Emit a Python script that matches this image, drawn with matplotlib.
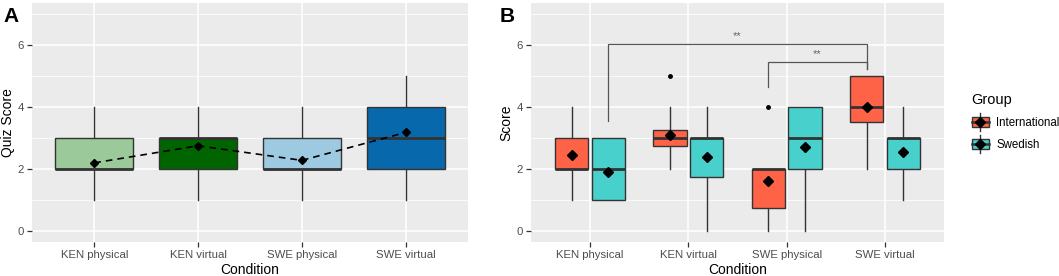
import matplotlib
matplotlib.use("Agg")
import matplotlib.pyplot as plt
from matplotlib.patches import Rectangle
from matplotlib.lines import Line2D
from matplotlib.legend_handler import HandlerBase

plt.rcParams['font.family'] = ['Liberation Sans', 'DejaVu Sans']

conditions = ["KEN physical", "KEN virtual", "SWE physical", "SWE virtual"]

# Panel A summary stats
a_whislo = [1, 1, 1, 1]
a_q1 = [2, 2, 2, 2]
a_med = [2, 3, 2, 3]
a_q3 = [3, 3, 3, 4]
a_whishi = [4, 4, 4, 5]
a_mean = [2.2, 2.75, 2.28, 3.18]
a_colors = ["#9CC99A", "#006400", "#9ECAE1", "#0868AC"]

# Panel B summary stats
groups = ["International", "Swedish"]
group_colors = ["#FF6347", "#48D1CC"]
b_int_whislo = [1, 2, 0, 2]
b_int_q1 = [2, 2.75, 0.75, 3.5]
b_int_med = [2, 3, 2, 4]
b_int_q3 = [3, 3.25, 2, 5]
b_int_whishi = [4, 4, 2, 5]
b_int_mean = [2.45, 3.1, 1.62, 4.0]
b_int_out = [[], [5], [4], []]
b_swe_whislo = [1, 0, 0, 1]
b_swe_q1 = [1, 1.75, 2, 2]
b_swe_med = [2, 3, 3, 3]
b_swe_q3 = [3, 3, 4, 3]
b_swe_whishi = [3, 4, 4, 4]
b_swe_mean = [1.92, 2.38, 2.7, 2.55]
b_swe_out = [[], [], [], []]

# significance brackets: (cond_left, group_left, y_left, cond_right, group_right, y_right, y_top, label)
brackets = [
    (0, 1, 3.55, 3, 0, 5.23, 6.03, "**"),
    (2, 0, 4.64, 3, 0, 5.23, 5.45, "**"),
]

W, H = 1059, 276
fig = plt.figure(figsize=(W / 100, H / 100), dpi=100)

BG = "#EBEBEB"
EDGE = "#333333"
TICKC = "#4D4D4D"


def style_axes(ax, ylabel):
    ax.set_facecolor(BG)
    for s in ax.spines.values():
        s.set_visible(False)
    ax.set_xlim(0.4, 4.6)
    ax.set_ylim(-0.35, 7.35)
    ax.set_yticks([0, 2, 4, 6])
    ax.set_yticks([1, 3, 5, 7], minor=True)
    ax.set_xticks(range(1, 5))
    ax.set_xticklabels(conditions)
    ax.grid(True, which="major", color="white", lw=1.1, zorder=0)
    ax.grid(True, which="minor", axis="y", color="white", lw=0.55, zorder=0)
    ax.set_axisbelow(True)
    ax.tick_params(axis="both", which="major", length=3.5, width=0.9, color="#333333",
                   labelcolor=TICKC, labelsize=8.2, pad=2.5)
    ax.tick_params(axis="y", which="minor", length=0)
    ax.set_xlabel("Condition", fontsize=10, labelpad=2)
    ax.set_ylabel(ylabel, fontsize=10, labelpad=2)


def stats(lo, q1, med, q3, hi, outs=None):
    return dict(whislo=lo, q1=q1, med=med, q3=q3, whishi=hi, fliers=outs or [])


def draw_boxes(ax, st, positions, widths, colors):
    bp = ax.bxp(st, positions=positions, widths=widths, patch_artist=True,
                showcaps=False, showfliers=True, manage_ticks=False,
                boxprops=dict(edgecolor=EDGE, linewidth=1.0),
                whiskerprops=dict(color=EDGE, linewidth=1.0),
                medianprops=dict(color=EDGE, linewidth=2.0),
                flierprops=dict(marker="o", markersize=2.5, markerfacecolor="black",
                                markeredgecolor="black", linestyle="none"))
    for patch, c in zip(bp["boxes"], colors):
        patch.set_facecolor(c)
        patch.set_zorder(2)
    for k in ("whiskers", "medians"):
        for l in bp[k]:
            l.set_zorder(3 if k == "medians" else 1.5)
    return bp


# ---------- Panel A ----------
axA = fig.add_axes([32 / W, 1 - 242 / H, 436 / W, 239 / H])
style_axes(axA, "Quiz Score")
stA = [stats(*v) for v in zip(a_whislo, a_q1, a_med, a_q3, a_whishi)]
draw_boxes(axA, stA, list(range(1, 5)), [0.75] * 4, a_colors)
axA.plot(range(1, 5), a_mean, color="black", linestyle=(0, (4, 3)), lw=1.2, zorder=4)
axA.plot(range(1, 5), a_mean, linestyle="none", marker="D", markersize=4.5,
         color="black", zorder=5)
fig.text(3 / W, 1 - 16 / H, "A", fontsize=15, fontweight="bold", va="center", ha="left")

# ---------- Panel B ----------
axB = fig.add_axes([531 / W, 1 - 242 / H, 413 / W, 239 / H])
style_axes(axB, "Score")
off = 0.1875
bw = 0.34
pos_int = [i + 1 - off for i in range(4)]
pos_swe = [i + 1 + off for i in range(4)]
stI = [stats(*v) for v in zip(b_int_whislo, b_int_q1, b_int_med, b_int_q3, b_int_whishi, b_int_out)]
stS = [stats(*v) for v in zip(b_swe_whislo, b_swe_q1, b_swe_med, b_swe_q3, b_swe_whishi, b_swe_out)]
draw_boxes(axB, stI, pos_int, [bw] * 4, [group_colors[0]] * 4)
draw_boxes(axB, stS, pos_swe, [bw] * 4, [group_colors[1]] * 4)
axB.plot(pos_int, b_int_mean, linestyle="none", marker="D", markersize=5.5, color="black", zorder=5)
axB.plot(pos_swe, b_swe_mean, linestyle="none", marker="D", markersize=5.5, color="black", zorder=5)

for cl, gl, yl, cr, gr, yr, yt, lab in brackets:
    xl = cl + 1 + (off if gl == 1 else -off)
    xr = cr + 1 + (off if gr == 1 else -off)
    axB.plot([xl, xl, xr, xr], [yl, yt, yt, yr], color="#555555", lw=0.9, zorder=6,
             solid_joinstyle="miter")
    axB.text((xl + xr) / 2, yt + 0.1, lab, ha="center", va="bottom", fontsize=8,
             color="#666666")
fig.text(500 / W, 1 - 16 / H, "B", fontsize=15, fontweight="bold", va="center", ha="left")


# ---------- Legend ----------
class BoxKey(HandlerBase):
    def create_artists(self, legend, orig_handle, xdescent, ydescent, width, height,
                       fontsize, trans):
        fc = orig_handle.get_facecolor()
        x0, y0 = -xdescent, -ydescent
        cx = x0 + width / 2
        arts = []
        arts.append(Line2D([cx, cx], [y0 - 3, y0 + height + 3], color=EDGE, lw=1.0,
                           transform=trans))
        arts.append(Rectangle((x0 + 0.5, y0), width - 1, height, facecolor=fc,
                              edgecolor=EDGE, lw=1.0, transform=trans))
        arts.append(Line2D([x0 + 0.5, x0 + width - 0.5], [y0 + height / 2] * 2, color=EDGE,
                           lw=1.8, transform=trans))
        arts.append(Line2D([cx], [y0 + height / 2], marker="D", markersize=5, color="black",
                           transform=trans))
        return arts


handles = [Rectangle((0, 0), 1, 1, facecolor=c) for c in group_colors]
leg = fig.legend(handles, groups, handler_map={Rectangle: BoxKey()},
                 loc="upper left", bbox_to_anchor=(963 / W, 1 - 85 / H),
                 frameon=False, title="Group", fontsize=8.3, title_fontsize=10.5,
                 handlelength=1.6, handleheight=0.95, handletextpad=0.6,
                 labelspacing=0.85, borderpad=0.2)
leg._legend_box.align = "left"
for t in leg.get_texts():
    t.set_color("black")

fig.savefig("out.png", dpi=100)
